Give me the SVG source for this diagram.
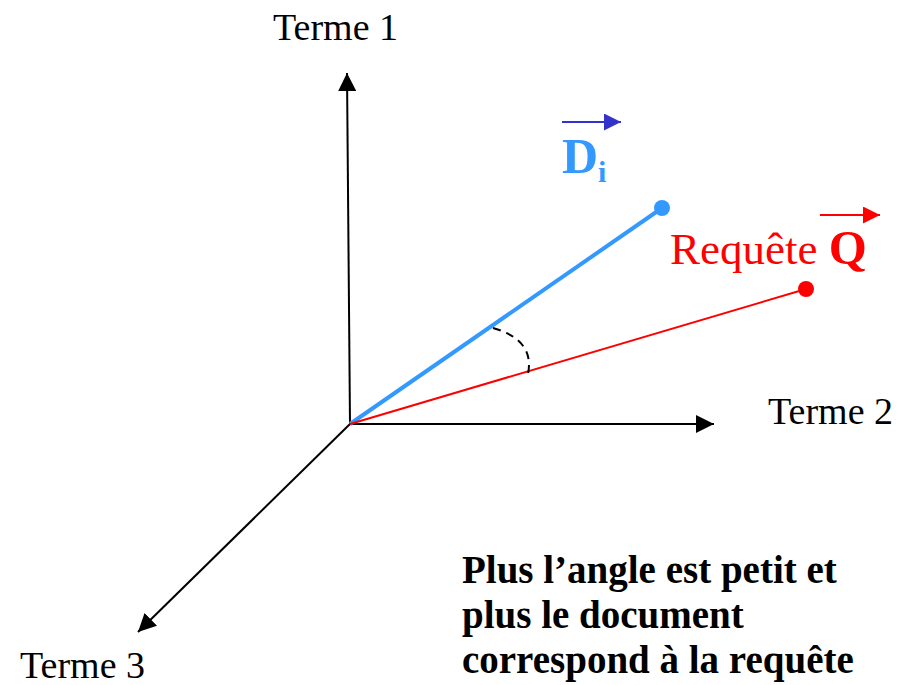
<svg xmlns="http://www.w3.org/2000/svg" width="899" height="685" viewBox="0 0 899 685">
<style>
.t{font-family:"Liberation Serif","Times New Roman",serif;font-size:38px;fill:#000}
.b{font-family:"Liberation Serif","Times New Roman",serif;font-size:39px;font-weight:bold;fill:#000}
.ax{stroke:#000;stroke-width:2;fill:none}
</style>
<defs>
<marker id="ahk" viewBox="0 0 10 10" refX="10" refY="5" markerWidth="18" markerHeight="18" markerUnits="userSpaceOnUse" orient="auto"><path d="M0,0L10,5L0,10z" fill="#000"/></marker>
<marker id="ahb" viewBox="0 0 10 10" refX="10" refY="5" markerWidth="17" markerHeight="17" markerUnits="userSpaceOnUse" orient="auto"><path d="M0,0L10,5L0,10z" fill="#3333CC"/></marker>
<marker id="ahr" viewBox="0 0 10 10" refX="10" refY="5" markerWidth="17" markerHeight="17" markerUnits="userSpaceOnUse" orient="auto"><path d="M0,0L10,5L0,10z" fill="#FF0000"/></marker>
</defs>
<g id="connectors">
<line class="ax" x1="350" y1="424" x2="347" y2="73" marker-end="url(#ahk)"/>
<line class="ax" x1="350" y1="424" x2="714" y2="424" marker-end="url(#ahk)"/>
<line class="ax" x1="350" y1="424" x2="138" y2="632" marker-end="url(#ahk)"/>
<line x1="350" y1="424" x2="662" y2="208" stroke="#3399FF" stroke-width="4"/>
<line x1="350" y1="424" x2="806" y2="289" stroke="#FF0000" stroke-width="2"/>
<path d="M493,328 Q535,340 528,374" stroke="#000" stroke-width="2" fill="none" stroke-dasharray="8,6"/>
</g>
<g id="axis1"><text class="t" x="273" y="40">Terme 1</text></g>
<g id="axis2"><text class="t" x="768" y="424">Terme 2</text></g>
<g id="axis3"><text class="t" x="20" y="678">Terme 3</text></g>
<g id="doc">
<circle cx="662" cy="208" r="8" fill="#3399FF"/>
<line x1="562" y1="122" x2="621" y2="122" stroke="#3333CC" stroke-width="2" marker-end="url(#ahb)"/>
<text x="562" y="173" font-family="Liberation Serif,serif" font-size="50" font-weight="bold" fill="#3399FF">D<tspan font-size="30" dy="9">i</tspan></text>
</g>
<g id="query">
<circle cx="806" cy="289" r="8" fill="#FF0000"/>
<line x1="820" y1="215" x2="880" y2="215" stroke="#FF0000" stroke-width="2" marker-end="url(#ahr)"/>
<text x="670" y="264" font-family="Liberation Serif,serif" font-size="45" fill="#FF0000">Requête <tspan font-weight="bold" font-size="49">Q</tspan></text>
</g>
<g id="note">
<text class="b" x="462" y="583">Plus l’angle est petit et</text>
<text class="b" x="462" y="628">plus le document</text>
<text class="b" x="462" y="673">correspond à la requête</text>
</g>
</svg>
